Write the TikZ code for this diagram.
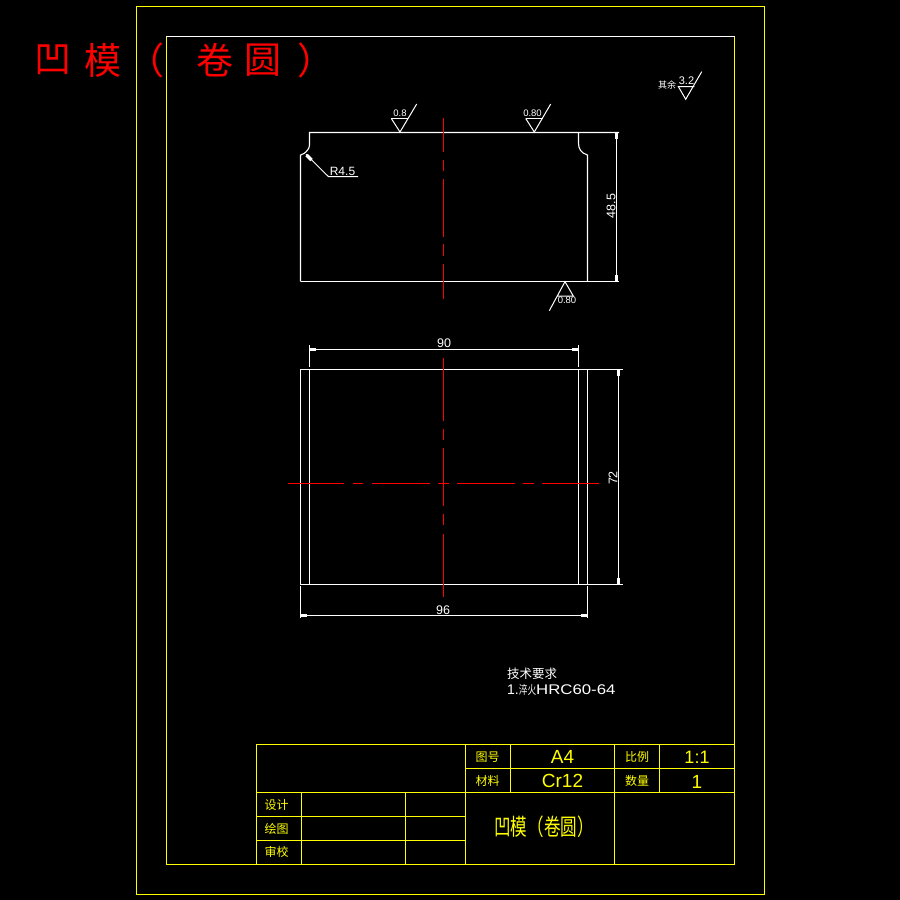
\documentclass[tikz,border=0pt]{standalone}
\usepackage{fontspec}
\setmainfont{Liberation Sans}
\newfontfamily\cjk{Noto Sans CJK SC}
\newfontfamily\cjknarrow[FakeStretch=0.72]{Noto Sans CJK SC}
\newfontfamily\widelatin[FakeStretch=1.2]{Liberation Sans}
\definecolor{cadyellow}{RGB}{255,255,0}
\definecolor{cadred}{RGB}{255,0,0}
\tikzset{
  frameline/.style={draw=cadyellow,line width=1.1pt},
  partline/.style={draw=white,line width=1.1pt},
  thinline/.style={draw=white,line width=1pt},
  axisline/.style={draw=cadred,line width=1pt},
  tick/.style={draw=white,line width=3.2pt},
  latin/.style={inner sep=0pt,text=white,font=\fontsize{12.5}{12.5}\selectfont},
  small/.style={inner sep=0pt,text=white,font=\fontsize{9.5}{10}\selectfont},
  cjksmall/.style={inner sep=0pt,text=white,font=\cjk\fontsize{11}{11}\selectfont},
  blocktext/.style={inner sep=0pt,text=cadyellow,font=\cjk\fontsize{12}{12}\selectfont},
  blocklatin/.style={inner sep=0pt,text=cadyellow,font=\fontsize{19}{19}\selectfont},
  titletext/.style={inner sep=0pt,text=cadred,font=\cjk\fontsize{37}{37}\selectfont},
}
\begin{document}
\begin{tikzpicture}[x=1pt,y=-1pt]
\useasboundingbox[fill=black] (0,0) rectangle (900,900);
% frames
\draw[frameline] (136.5,6.5) rectangle (764.5,894.5);
\draw[frameline] (166.5,36.5) -- (166.5,864.5) -- (734.5,864.5) -- (734.5,36.5);
\draw[partline] (166,36.5) -- (734.5,36.5);
% title block
\draw[frameline] (256.5,864.5) -- (256.5,744.5) -- (734.5,744.5);
\draw[frameline] (465.5,768.5) -- (734.5,768.5);
\draw[frameline] (256.5,792.5) -- (734.5,792.5);
\draw[frameline] (256.5,816.5) -- (465.5,816.5);
\draw[frameline] (256.5,840.5) -- (465.5,840.5);
\draw[frameline] (301.5,792.5) -- (301.5,864.5);
\draw[frameline] (405.5,792.5) -- (405.5,864.5);
\draw[frameline] (465.5,744.5) -- (465.5,864.5);
\draw[frameline] (510.5,744.5) -- (510.5,792.5);
\draw[frameline] (614.5,744.5) -- (614.5,864.5);
\draw[frameline] (659.5,744.5) -- (659.5,792.5);
\node[blocktext] (t1) at (487.5,757) {图号};
\node[blocklatin] (t2) at (562.5,757) {A4};
\node[blocktext] (t3) at (637,757) {比例};
\node[blocklatin,font=\fontsize{18}{18}\selectfont] (t4) at (697,757) {1:1};
\node[blocktext] (t5) at (487.5,781) {材料};
\node[blocklatin] (t6) at (562.5,781) {Cr12};
\node[blocktext] (t7) at (637,781) {数量};
\node[blocklatin] (t8) at (697,782) {1};
\node[blocktext] (t9) at (276.5,805) {设计};
\node[blocktext] (t10) at (276.5,829) {绘图};
\node[blocktext] (t11) at (276.5,851.5) {审校};
\node[blocktext,font=\cjknarrow\fontsize{23}{23}\selectfont] (t12) at (544,827) {凹模（卷圆）};
% big title
\node[titletext] (b1) at (53,60) {凹};
\node[titletext] (b2) at (103,60) {模};
\node[titletext] (b3) at (146,60) {（};
\node[titletext] (b4) at (215,60) {卷};
\node[titletext] (b5) at (263,60) {圆};
\node[titletext] (b6) at (316,60) {）};
% top view
\draw[partline] (619,132.5) -- (309.5,132.5) -- (309.5,145) .. controls (309.5,149) and (306,152) .. (304,153.5) -- (300.5,155) -- (300.5,281.5);
\draw[partline] (300.5,281.5) -- (619,281.5);
\draw[partline] (578.5,132.5) -- (578.5,143) .. controls (578.5,149) and (581,153) .. (587.5,155) -- (587.5,281.5);
\draw[thinline] (616.5,132.5) -- (616.5,281.5);
\draw[tick] (616.5,133) -- (616.5,139);
\draw[tick] (616.5,275) -- (616.5,281);
\node[latin,rotate=90] (d485) at (611,206) {48.5};
% axis top view
\foreach \a/\b in {118.3/152,160/171,179.3/236.7,244/255.7,264/299}
  \draw[axisline] (443.5,\a) -- (443.5,\b);
% R4.5
\draw[thinline] (306,154.3) -- (328.3,176.5) -- (358,176.5);
\draw[tick] (306.5,155) -- (311.5,160);
\node[latin,font=\fontsize{12}{12}\selectfont] (r45) at (342.5,171) {R4.5};
% roughness
\draw[thinline] (391.3,118.5) -- (408.3,118.5);
\draw[thinline] (391.3,118.5) -- (400,132) -- (416.7,104);
\node[small] (s1) at (400,113) {0.8};
\draw[thinline] (525.7,118.5) -- (542.7,118.5);
\draw[thinline] (525.7,118.5) -- (534.3,132) -- (550.7,104);
\node[small] (s2) at (532.5,113.5) {0.80};
\draw[thinline] (557.7,296) -- (573.3,296) -- (565,281.7) -- (549.3,310.7);
\node[small] (s3) at (567,300.5) {0.80};
\draw[thinline] (701.7,71.7) -- (685.7,99.3) -- (678.3,86.5) -- (694.3,86.5);
\node[cjksmall,font=\cjk\fontsize{9}{9}\selectfont] (s4a) at (667,85.5) {其余};
\node[small,font=\fontsize{11}{11}\selectfont] (s4b) at (686.5,81) {3.2};
% bottom view
\draw[partline] (300.5,369.5) rectangle (587.5,584.5);
\draw[partline] (309.5,369.5) -- (309.5,584.5);
\draw[partline] (578.5,369.5) -- (578.5,584.5);
\draw[partline] (587.5,369.5) -- (623,369.5);
\draw[partline] (587.5,584.5) -- (623,584.5);
\draw[thinline] (618.5,369.5) -- (618.5,584.5);
\draw[tick] (618.5,370) -- (618.5,376);
\draw[tick] (618.5,578) -- (618.5,584);
\node[latin,rotate=90] (d72) at (613,478) {72};
\draw[thinline] (309.5,345) -- (309.5,367);
\draw[thinline] (578.5,345) -- (578.5,367);
\draw[thinline] (309.5,349.5) -- (578.5,349.5);
\draw[tick] (310,349.5) -- (316,349.5);
\draw[tick] (572,349.5) -- (578,349.5);
\node[latin] (d90) at (444,343) {90};
\draw[thinline] (300.5,586) -- (300.5,618);
\draw[thinline] (587.5,586) -- (587.5,618);
\draw[thinline] (300.5,615.5) -- (587.5,615.5);
\draw[tick] (301,615.5) -- (307,615.5);
\draw[tick] (581,615.5) -- (587,615.5);
\node[latin] (d96) at (443,610) {96};
\foreach \a/\b in {357.7/421,429/440,448/506,514/525,534/597}
  \draw[axisline] (443.5,\a) -- (443.5,\b);
\foreach \a/\b in {288/344,353.3/363.3,372/430,438/449.3,457/515,523/534,542/599}
  \draw[axisline] (\a,483.5) -- (\b,483.5);
% notes
\node[cjksmall,anchor=west,font=\cjk\fontsize{12.5}{12.5}\selectfont] (n1) at (507,674) {技术要求};
\node[inner sep=0pt,text=white,anchor=west,font=\widelatin\fontsize{14}{14}\selectfont] (n2) at (507,690) {{\rmfamily 1.}{\cjknarrow\fontsize{12}{12}\selectfont 淬火}HRC60-64};
\end{tikzpicture}
\end{document}
